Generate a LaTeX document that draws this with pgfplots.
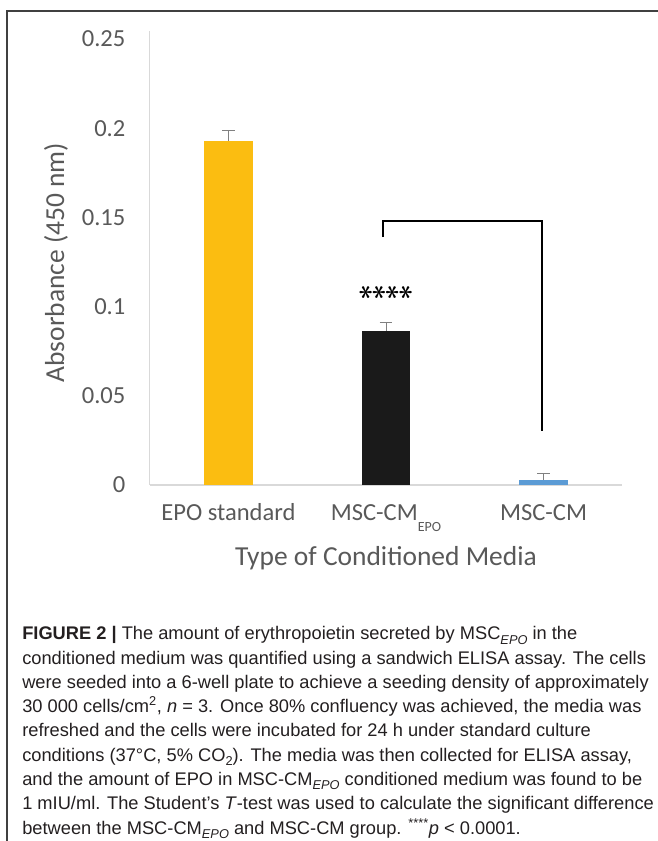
\documentclass[border=0pt]{standalone}
\usepackage{fontspec}
\usepackage{pgfplots}
\pgfplotsset{compat=1.18}
\newfontfamily\chartfont{Carlito}
\newfontfamily\capfont{Liberation Sans}
\definecolor{tickgray}{RGB}{89,89,89}
\definecolor{axgray}{RGB}{217,217,217}
\definecolor{epoorange}{RGB}{251,189,17}
\definecolor{epoblack}{RGB}{26,26,26}
\definecolor{epoblue}{RGB}{91,155,213}
\definecolor{captext}{RGB}{35,31,32}
\definecolor{errgray}{RGB}{128,128,128}
\newcommand{\chsub}[1]{\raisebox{-0.42em}{\fontsize{10.5pt}{10.5pt}\selectfont #1}}
\newcommand{\capsub}[1]{\raisebox{-0.22em}{\fontsize{9.6pt}{9.6pt}\selectfont #1}}
\newcommand{\rast}{\rotatebox[origin=c]{90}{\boldmath$\ast$}}
\begin{document}
\begin{tikzpicture}[x=0.75pt,y=0.75pt]
\path[use as bounding box] (0,0) rectangle (657,841);
\draw[line width=0.9pt, black!75] (7,-5) -- (7,830) -- (665,830);
\begin{axis}[
  at={(112.2pt,267pt)}, anchor=south west,
  scale only axis, width=354.6pt, height=340.5pt,
  xmin=-0.5, xmax=2.5, ymin=0, ymax=0.2545,
  clip=false,
  axis lines=left,
  axis line style={-, draw=axgray, line width=0.8pt},
  xtick={0,1,2},
  xticklabels={EPO standard, MSC-CM\chsub{EPO}, MSC-CM},
  ytick={0,0.05,0.1,0.15,0.2,0.25},
  yticklabels={0,0.05,0.1,0.15,0.2,0.25},
  major tick length=0pt,
  tick label style={font=\chartfont\fontsize{18.4pt}{20pt}\selectfont, text=tickgray},
  yticklabel style={anchor=east, inner sep=0pt, xshift=-18pt},
  xticklabel style={anchor=base, inner sep=0pt, yshift=-27pt},
  ylabel={Absorbance (450 nm)},
  xlabel={Type of Conditioned Media},
  label style={font=\chartfont\fontsize{20.6pt}{24pt}\selectfont, text=tickgray},
  ylabel style={at={(axis description cs:-0.198,0.49)}, anchor=center},
  xlabel style={at={(axis description cs:0.5,-0.161)}, anchor=center},
  error bars/y dir=plus, error bars/y explicit,
  error bars/error bar style={errgray, line width=0.6pt},
  error bars/error mark options={rotate=90, mark size=4.7pt, errgray, line width=0.6pt},
]
\addplot[ybar, bar width=36.6pt, bar shift=0pt, fill=epoorange, draw=none,
  error bars/y dir=plus, error bars/y explicit] coordinates {(0,0.193) +- (0,0.0056)};
\addplot[ybar, bar width=36.6pt, bar shift=0pt, fill=epoblack, draw=none,
  error bars/y dir=plus, error bars/y explicit] coordinates {(1,0.0865) +- (0,0.0047)};
\addplot[ybar, bar width=36.6pt, bar shift=0pt, fill=epoblue, draw=none,
  error bars/y dir=plus, error bars/y explicit] coordinates {(2,0.0028) +- (0,0.0039)};
\addplot[black, line width=1.6pt, sharp plot] coordinates {(0.98,0.139) (0.98,0.148) (1.99,0.148) (1.99,0.030)};
\node[anchor=center, inner sep=0pt, font=\fontsize{21pt}{21pt}\selectfont] at (axis cs:1.0,0.108) {\rast\hspace{0.2pt}\rast\hspace{0.2pt}\rast\hspace{0.2pt}\rast};
\end{axis}
\begin{scope}[every node/.style={anchor=base west, inner sep=0pt, text=captext, font=\capfont\fontsize{13.7pt}{18pt}\selectfont}]
\node at (22,201) {\textbf{FIGURE 2 |} The amount of erythropoietin secreted by MSC\capsub{\itshape EPO} in the};
\node at (22,176.75) {conditioned medium was quantified using a sandwich ELISA assay. The cells};
\node at (22,152.5) {were seeded into a 6-well plate to achieve a seeding density of approximately};
\node at (22,128.25) {30 000 cells/cm\textsuperscript{2}, \textit{n} = 3. Once 80\% confluency was achieved, the media was};
\node at (22,104) {refreshed and the cells were incubated for 24 h under standard culture};
\node at (22,79.75) {conditions (37°C, 5\% CO\capsub{2}). The media was then collected for ELISA assay,};
\node at (22,55.5) {and the amount of EPO in MSC-CM\capsub{\itshape EPO} conditioned medium was found to be};
\node at (22,31.25) {1 mIU/ml. The Student’s \textit{T}-test was used to calculate the significant difference};
\node at (22,7) {between the MSC-CM\capsub{\itshape EPO} and MSC-CM group. \textsuperscript{****}\textit{p} < 0.0001.};
\end{scope}
\end{tikzpicture}
\end{document}
